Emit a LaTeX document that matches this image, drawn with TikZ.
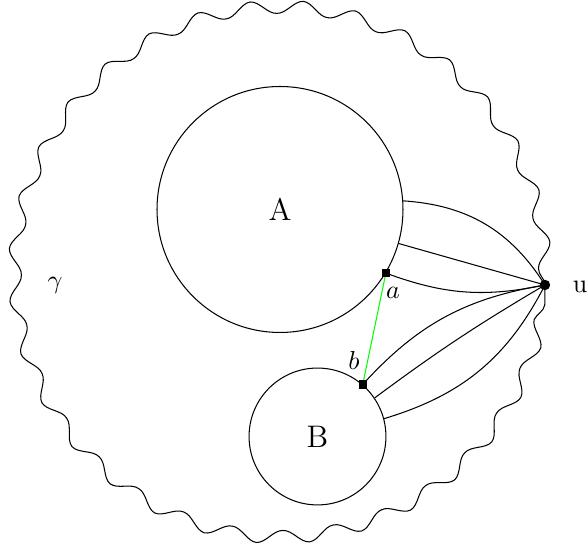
\documentclass[tikz,border=0pt]{standalone}
\usetikzlibrary{decorations.pathmorphing}
\begin{document}
\begin{tikzpicture}[x=0.385pt,y=0.385pt,
  sq/.style={rectangle,fill=black,inner sep=0pt,minimum size=3.2pt},
  udot/.style={circle,fill=black,inner sep=0pt,minimum size=4pt},
  region/.style={circle,draw=black,inner sep=0pt},
  link/.style={draw=black}]
\useasboundingbox (0,0) rectangle (587,549);
\draw[decorate,decoration={snake,segment length=20.03pt,amplitude=2.5pt}] (280,264) circle[radius=265];
\node[region,minimum size=94.7pt] (A) at (280,339.5) {\large A};
\node[region,minimum size=52.7pt] (B) at (317.5,112.5) {\large B};
\coordinate (u) at (545,264);
\coordinate (a) at (A.-31);
\coordinate (b) at (B.49);
\draw[link] (A.4) to[bend left=27] (u);
\draw[link] (A.-16) -- (u);
\draw[link] (a) to[bend right=16] (u);
\draw[link] (b) to[bend left=19] (u);
\draw[link] (B.34) to[bend left=3] (u);
\draw[link] (B.15) to[bend right=23] (u);
\draw[green] (a) -- (b);
\node[sq] (asq) at (a) {};
\node[sq] (bsq) at (b) {};
\node[udot] (ud) at (u) {};
\node (ul) at (580,262) {u};
\node (al) at (393,256) {$a$};
\node (bl) at (354,189) {$b$};
\node (gl) at (55,264) {$\gamma$};
\end{tikzpicture}
\end{document}
